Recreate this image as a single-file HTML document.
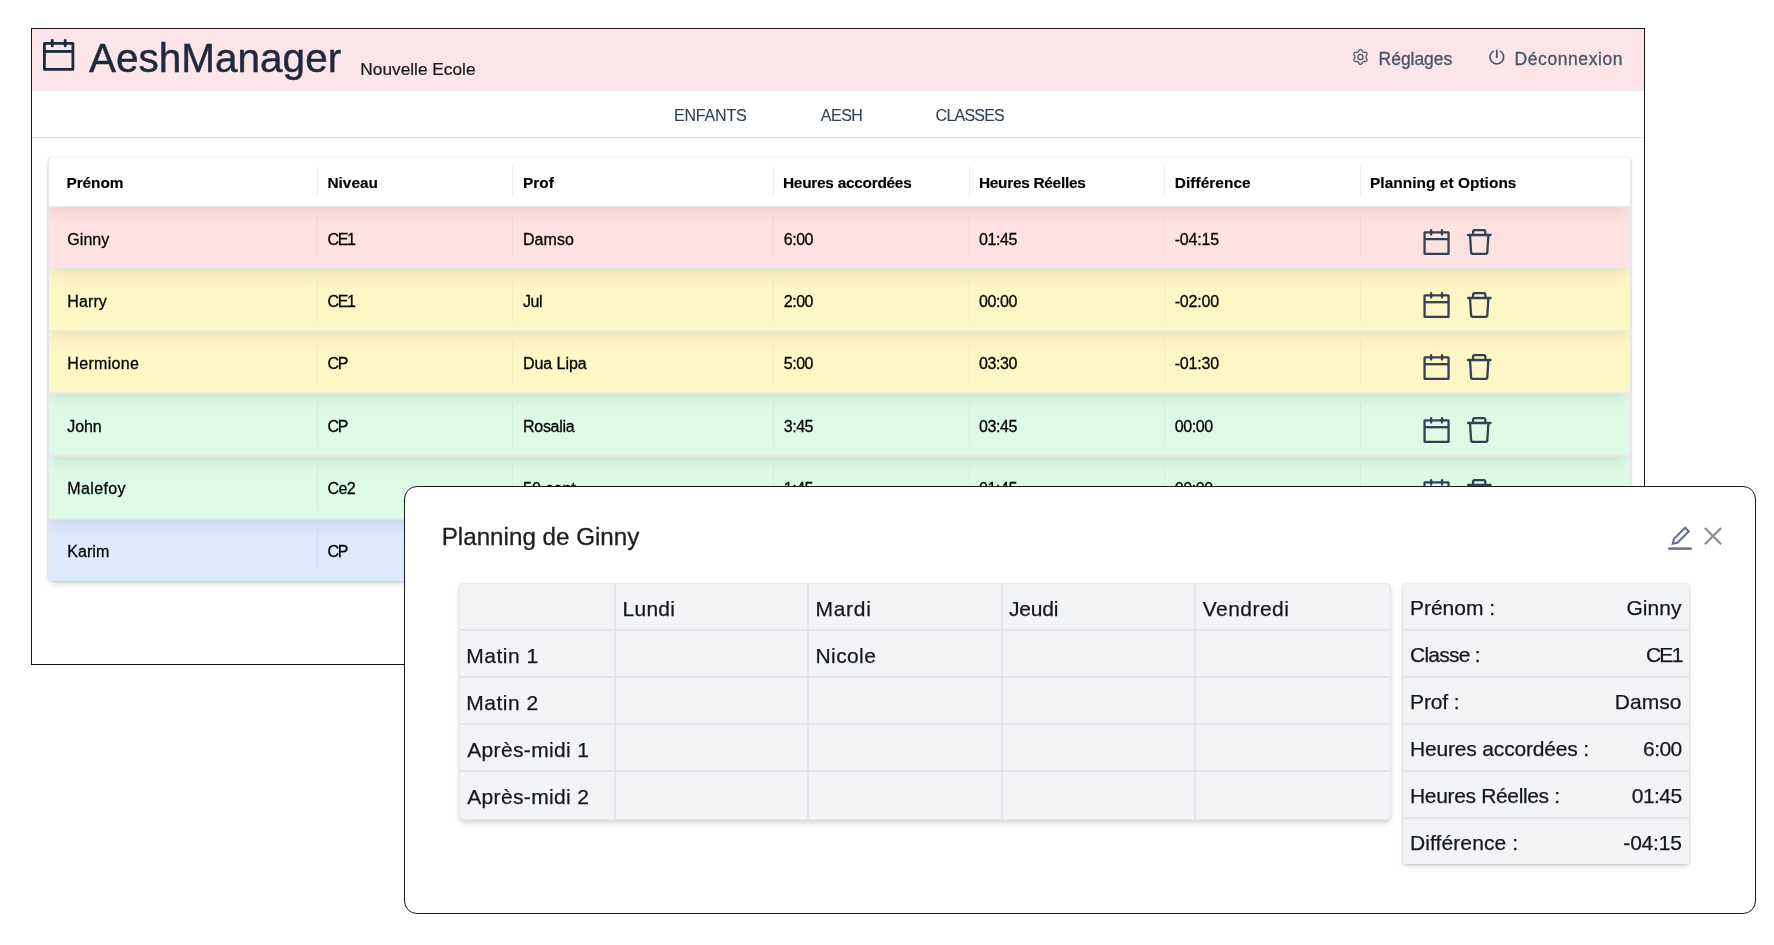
<!DOCTYPE html>
<html lang="fr">
<head>
<meta charset="utf-8">
<title>AeshManager</title>
<style>
*{box-sizing:border-box;margin:0;padding:0}
html,body{width:1774px;height:945px;overflow:hidden;background:#fff}
body{font-family:"Liberation Sans",sans-serif;color:#111;position:relative}
.t{position:absolute;white-space:nowrap;line-height:1}
.ic{position:absolute;overflow:visible}
#frame{will-change:transform;position:absolute;left:31px;top:28px;width:1614px;height:637px;border:1px solid #151515;background:#fff;overflow:hidden}
#hdr{position:absolute;left:0;top:0;width:1612px;height:62.4px;background:#fce5e8;border-bottom:1.4px solid #e8eaee}
#nav{position:absolute;left:0;top:62px;width:1612px;height:47px;border-bottom:1px solid #e3e4e8}
.hl{color:#475569;-webkit-text-stroke:0.3px #475569}
.nv{color:#334155;-webkit-text-stroke:.1px #334155}
#tbl{position:absolute;left:16px;top:128px;width:1583px;height:424px;border-radius:4px;background:#fff;box-shadow:0 4px 6px -1px rgba(0,0,0,.13),0 2px 4px -2px rgba(0,0,0,.11),0 0 0 0.4px #e6e8ec;overflow:hidden;border-left:1px solid #e4e6eb;border-right:1px solid #e4e6eb}
#tin{position:absolute;left:-1px;top:0;width:1582px;height:424px}
.row{position:absolute;left:0;width:1582px}
.row{overflow:hidden}
.row:before{content:"";position:absolute;left:0;right:0;top:-40px;height:40px;box-shadow:0 10px 15px -3px rgba(40,30,25,.07),0 4px 6px -4px rgba(40,30,25,.04)}
.rl{position:absolute;left:0;width:100%;height:1px;background:#e3e6ea;box-shadow:0 -1px 0 rgba(226,229,234,.55)}
#hline{position:absolute;left:0;top:49px;width:100%;height:1px;background:#eceef1;box-shadow:0 -1px 0 rgba(236,238,241,.5)}
.th{font-weight:bold;color:#000;-webkit-text-stroke:.15px #000}
.td{color:#000;-webkit-text-stroke:.28px #000}
.sep{position:absolute;width:1px;background:rgba(0,0,0,.065)}
.row .sep{background:rgba(0,0,0,.045)}
#modal{will-change:transform;position:absolute;left:404px;top:486px;width:1352px;height:428px;border:1px solid #1c1c1c;border-radius:13px;background:#fff}
.grid{position:absolute;background:#f3f4f6;box-shadow:0 4px 6px -1px rgba(0,0,0,.13),0 2px 4px -1px rgba(0,0,0,.09);border-radius:4px}
.gl{position:absolute;background:#e5e7eb}
.gt{color:#16181c;-webkit-text-stroke:.25px #16181c}
</style>
</head>
<body>
<div id="frame">
<div id="hdr">
<svg class="ic" style="left:10px;top:9px" width="34" height="34" viewBox="0 0 34 34" fill="none" stroke="#1e293b" stroke-width="2.8" stroke-linecap="round" stroke-linejoin="round"><rect x="2.4" y="5.4" width="28.5" height="26.05" rx="0.2"/><path d="M2.4 13.45H30.9" stroke-linecap="butt"/><path d="M10.25 2.5V7.9M23.2 2.5V7.9"/></svg>
<div class="t " style="left:57.00px;top:9.15px;font-size:40.5px;color:#1e293b;-webkit-text-stroke:0.45px #1e293b">AeshManager</div>
<div class="t " style="left:328.30px;top:31.75px;font-size:17.3px;color:#15171b;-webkit-text-stroke:.2px #15171b">Nouvelle Ecole</div>
<svg class="ic" style="left:0;top:0" width="1612" height="62" fill="none" stroke="#475569" stroke-width="1.25" stroke-linejoin="round"><path d="M1333.95 27.95L1333.99 27.56L1334.13 27.15L1334.35 26.70L1334.84 26.12L1335.06 25.54L1335.09 24.99L1334.97 24.48L1334.71 24.04L1334.33 23.68L1333.84 23.43L1333.23 23.33L1332.49 23.47L1331.98 23.43L1331.56 23.34L1331.20 23.19L1330.89 22.95L1330.60 22.63L1330.31 22.21L1330.06 21.50L1329.67 21.02L1329.21 20.72L1328.71 20.57L1328.19 20.57L1327.69 20.72L1327.23 21.02L1326.84 21.50L1326.59 22.21L1326.30 22.63L1326.01 22.95L1325.70 23.19L1325.34 23.34L1324.92 23.43L1324.41 23.47L1323.67 23.33L1323.06 23.43L1322.57 23.68L1322.19 24.04L1321.93 24.48L1321.81 24.99L1321.84 25.54L1322.06 26.12L1322.55 26.70L1322.77 27.15L1322.91 27.56L1322.95 27.95L1322.91 28.34L1322.77 28.75L1322.55 29.20L1322.06 29.78L1321.84 30.36L1321.81 30.91L1321.93 31.42L1322.19 31.86L1322.57 32.22L1323.06 32.47L1323.67 32.57L1324.41 32.43L1324.92 32.47L1325.34 32.56L1325.70 32.71L1326.01 32.95L1326.30 33.27L1326.59 33.69L1326.84 34.40L1327.23 34.88L1327.69 35.18L1328.19 35.33L1328.71 35.33L1329.21 35.18L1329.67 34.88L1330.06 34.40L1330.31 33.69L1330.60 33.27L1330.89 32.95L1331.20 32.71L1331.56 32.56L1331.98 32.47L1332.49 32.43L1333.23 32.57L1333.84 32.47L1334.33 32.22L1334.71 31.86L1334.97 31.42L1335.09 30.91L1335.06 30.36L1334.84 29.78L1334.35 29.20L1334.13 28.75L1333.99 28.34Z"/><circle cx="1328.45" cy="27.950000000000003" r="2.6"/></svg>
<div class="t hl" style="left:1346.60px;top:21.65px;font-size:17.5px;letter-spacing:-0.04px">Réglages</div>
<svg class="ic" style="left:0;top:0" width="1612" height="62" fill="none" stroke="#475569" stroke-width="1.6" stroke-linecap="butt"><path d="M1461.78 21.85A6.9 6.9 0 1 0 1467.82 21.85"/><path d="M1464.8 20.75V29.05" stroke-width="1.8"/></svg>
<div class="t hl" style="left:1482.60px;top:21.65px;font-size:17.5px;letter-spacing:0.57px">Déconnexion</div>
</div>
<div id="nav">
<div class="t nv" style="left:642.00px;top:16.90px;font-size:16px;letter-spacing:-0.19px">ENFANTS</div>
<div class="t nv" style="left:788.70px;top:16.90px;font-size:16px;letter-spacing:-0.45px">AESH</div>
<div class="t nv" style="left:903.60px;top:16.90px;font-size:16px;letter-spacing:-0.77px">CLASSES</div>
</div>
<div id="tbl"><div id="tin"><div id="hline"></div>
<div class="t th" style="left:18.50px;top:18.30px;font-size:15.4px;letter-spacing:-0.067px">Prénom</div>
<div class="t th" style="left:279.50px;top:18.30px;font-size:15.4px;letter-spacing:-0.019px">Niveau</div>
<div class="t th" style="left:475.00px;top:18.30px;font-size:15.4px;letter-spacing:-0.010px">Prof</div>
<div class="t th" style="left:735.00px;top:18.30px;font-size:15.4px;letter-spacing:-0.259px">Heures accordées</div>
<div class="t th" style="left:931.00px;top:18.30px;font-size:15.4px;letter-spacing:-0.279px">Heures Réelles</div>
<div class="t th" style="left:1126.70px;top:18.30px;font-size:15.4px;letter-spacing:0.075px">Différence</div>
<div class="t th" style="left:1322.00px;top:18.30px;font-size:15.4px;letter-spacing:0.059px">Planning et Options</div>
<div class="sep" style="left:269.3px;top:9px;height:31px"></div>
<div class="sep" style="left:464.3px;top:9px;height:31px"></div>
<div class="sep" style="left:725.2px;top:9px;height:31px"></div>
<div class="sep" style="left:920.8px;top:9px;height:31px"></div>
<div class="sep" style="left:1116.3px;top:9px;height:31px"></div>
<div class="sep" style="left:1311.6px;top:9px;height:31px"></div>
<div class="row" style="top:50px;height:61px;background:#fee2e2">
<div class="t td" style="left:19.30px;top:24.85px;font-size:16px;letter-spacing:0.042px;">Ginny</div>
<div class="t td" style="left:279.50px;top:24.85px;font-size:16px;letter-spacing:-1.308px;">CE1</div>
<div class="t td" style="left:475.00px;top:24.85px;font-size:16px;letter-spacing:0.039px;">Damso</div>
<div class="t td" style="left:735.70px;top:24.85px;font-size:16px;letter-spacing:-0.449px;">6:00</div>
<div class="t td" style="left:931.00px;top:24.85px;font-size:16px;letter-spacing:-0.414px;">01:45</div>
<div class="t td" style="left:1126.70px;top:24.85px;font-size:16px;letter-spacing:-0.167px;">-04:15</div>
<div class="sep" style="left:269.3px;top:9px;height:43px"></div>
<div class="sep" style="left:464.3px;top:9px;height:43px"></div>
<div class="sep" style="left:725.2px;top:9px;height:43px"></div>
<div class="sep" style="left:920.8px;top:9px;height:43px"></div>
<div class="sep" style="left:1116.3px;top:9px;height:43px"></div>
<div class="sep" style="left:1311.6px;top:9px;height:43px"></div>
<svg class="ic" style="left:1374px;top:21.05px" width="30" height="30" viewBox="0 0 30 30" fill="none" stroke="#334155" stroke-width="2.3" stroke-linecap="round" stroke-linejoin="round"><rect x="2.55" y="4.45" width="24" height="21.4" rx="0.35"/><path d="M2.55 11.2H26.55" stroke-linecap="butt"/><path d="M9.1 2.1V6.6M20 2.1V6.6"/></svg>
<svg class="ic" style="left:1417px;top:21.05px" width="30" height="30" viewBox="0 0 30 30" fill="none" stroke="#334155" stroke-width="2.3" stroke-linecap="round" stroke-linejoin="round"><path d="M3.05 7H25.55M8.1 7V3.6Q8.1 2.15 9.55 2.15H18.85Q20.3 2.15 20.3 3.6V7M5 7L6.1 24.3Q6.2 25.85 7.7 25.85H20.7Q22.2 25.85 22.3 24.3L23.4 7"/></svg>
</div>
<div class="rl" style="top:111px"></div>
<div class="row" style="top:112px;height:62px;background:#fef6c5">
<div class="t td" style="left:19.30px;top:24.85px;font-size:16px;letter-spacing:0.101px;">Harry</div>
<div class="t td" style="left:279.50px;top:24.85px;font-size:16px;letter-spacing:-1.308px;">CE1</div>
<div class="t td" style="left:475.00px;top:24.85px;font-size:16px;letter-spacing:-0.406px;">Jul</div>
<div class="t td" style="left:735.70px;top:24.85px;font-size:16px;letter-spacing:-0.449px;">2:00</div>
<div class="t td" style="left:931.00px;top:24.85px;font-size:16px;letter-spacing:-0.414px;">00:00</div>
<div class="t td" style="left:1126.70px;top:24.85px;font-size:16px;letter-spacing:-0.167px;">-02:00</div>
<div class="sep" style="left:269.3px;top:9px;height:43px"></div>
<div class="sep" style="left:464.3px;top:9px;height:43px"></div>
<div class="sep" style="left:725.2px;top:9px;height:43px"></div>
<div class="sep" style="left:920.8px;top:9px;height:43px"></div>
<div class="sep" style="left:1116.3px;top:9px;height:43px"></div>
<div class="sep" style="left:1311.6px;top:9px;height:43px"></div>
<svg class="ic" style="left:1374px;top:21.55px" width="30" height="30" viewBox="0 0 30 30" fill="none" stroke="#334155" stroke-width="2.3" stroke-linecap="round" stroke-linejoin="round"><rect x="2.55" y="4.45" width="24" height="21.4" rx="0.35"/><path d="M2.55 11.2H26.55" stroke-linecap="butt"/><path d="M9.1 2.1V6.6M20 2.1V6.6"/></svg>
<svg class="ic" style="left:1417px;top:21.55px" width="30" height="30" viewBox="0 0 30 30" fill="none" stroke="#334155" stroke-width="2.3" stroke-linecap="round" stroke-linejoin="round"><path d="M3.05 7H25.55M8.1 7V3.6Q8.1 2.15 9.55 2.15H18.85Q20.3 2.15 20.3 3.6V7M5 7L6.1 24.3Q6.2 25.85 7.7 25.85H20.7Q22.2 25.85 22.3 24.3L23.4 7"/></svg>
</div>
<div class="rl" style="top:174px"></div>
<div class="row" style="top:175px;height:61px;background:#fef6c5">
<div class="t td" style="left:19.30px;top:23.85px;font-size:16px;letter-spacing:0.327px;">Hermione</div>
<div class="t td" style="left:279.50px;top:23.85px;font-size:16px;letter-spacing:-1.380px;">CP</div>
<div class="t td" style="left:475.00px;top:23.85px;font-size:16px;letter-spacing:-0.058px;">Dua Lipa</div>
<div class="t td" style="left:735.70px;top:23.85px;font-size:16px;letter-spacing:-0.449px;">5:00</div>
<div class="t td" style="left:931.00px;top:23.85px;font-size:16px;letter-spacing:-0.414px;">03:30</div>
<div class="t td" style="left:1126.70px;top:23.85px;font-size:16px;letter-spacing:-0.167px;">-01:30</div>
<div class="sep" style="left:269.3px;top:9px;height:43px"></div>
<div class="sep" style="left:464.3px;top:9px;height:43px"></div>
<div class="sep" style="left:725.2px;top:9px;height:43px"></div>
<div class="sep" style="left:920.8px;top:9px;height:43px"></div>
<div class="sep" style="left:1116.3px;top:9px;height:43px"></div>
<div class="sep" style="left:1311.6px;top:9px;height:43px"></div>
<svg class="ic" style="left:1374px;top:21.05px" width="30" height="30" viewBox="0 0 30 30" fill="none" stroke="#334155" stroke-width="2.3" stroke-linecap="round" stroke-linejoin="round"><rect x="2.55" y="4.45" width="24" height="21.4" rx="0.35"/><path d="M2.55 11.2H26.55" stroke-linecap="butt"/><path d="M9.1 2.1V6.6M20 2.1V6.6"/></svg>
<svg class="ic" style="left:1417px;top:21.05px" width="30" height="30" viewBox="0 0 30 30" fill="none" stroke="#334155" stroke-width="2.3" stroke-linecap="round" stroke-linejoin="round"><path d="M3.05 7H25.55M8.1 7V3.6Q8.1 2.15 9.55 2.15H18.85Q20.3 2.15 20.3 3.6V7M5 7L6.1 24.3Q6.2 25.85 7.7 25.85H20.7Q22.2 25.85 22.3 24.3L23.4 7"/></svg>
</div>
<div class="rl" style="top:236px"></div>
<div class="row" style="top:237px;height:62px;background:#dcfae6">
<div class="t td" style="left:19.30px;top:24.85px;font-size:16px;letter-spacing:-0.108px;">John</div>
<div class="t td" style="left:279.50px;top:24.85px;font-size:16px;letter-spacing:-1.380px;">CP</div>
<div class="t td" style="left:475.00px;top:24.85px;font-size:16px;letter-spacing:-0.287px;">Rosalia</div>
<div class="t td" style="left:735.70px;top:24.85px;font-size:16px;letter-spacing:-0.449px;">3:45</div>
<div class="t td" style="left:931.00px;top:24.85px;font-size:16px;letter-spacing:-0.414px;">03:45</div>
<div class="t td" style="left:1126.70px;top:24.85px;font-size:16px;letter-spacing:-0.414px;">00:00</div>
<div class="sep" style="left:269.3px;top:9px;height:43px"></div>
<div class="sep" style="left:464.3px;top:9px;height:43px"></div>
<div class="sep" style="left:725.2px;top:9px;height:43px"></div>
<div class="sep" style="left:920.8px;top:9px;height:43px"></div>
<div class="sep" style="left:1116.3px;top:9px;height:43px"></div>
<div class="sep" style="left:1311.6px;top:9px;height:43px"></div>
<svg class="ic" style="left:1374px;top:21.55px" width="30" height="30" viewBox="0 0 30 30" fill="none" stroke="#334155" stroke-width="2.3" stroke-linecap="round" stroke-linejoin="round"><rect x="2.55" y="4.45" width="24" height="21.4" rx="0.35"/><path d="M2.55 11.2H26.55" stroke-linecap="butt"/><path d="M9.1 2.1V6.6M20 2.1V6.6"/></svg>
<svg class="ic" style="left:1417px;top:21.55px" width="30" height="30" viewBox="0 0 30 30" fill="none" stroke="#334155" stroke-width="2.3" stroke-linecap="round" stroke-linejoin="round"><path d="M3.05 7H25.55M8.1 7V3.6Q8.1 2.15 9.55 2.15H18.85Q20.3 2.15 20.3 3.6V7M5 7L6.1 24.3Q6.2 25.85 7.7 25.85H20.7Q22.2 25.85 22.3 24.3L23.4 7"/></svg>
</div>
<div class="rl" style="top:299px"></div>
<div class="row" style="top:300px;height:62px;background:#dcfae6">
<div class="t td" style="left:19.30px;top:23.85px;font-size:16px;letter-spacing:0.382px;">Malefoy</div>
<div class="t td" style="left:279.50px;top:23.85px;font-size:16px;letter-spacing:-0.624px;">Ce2</div>
<div class="t td" style="left:475.00px;top:23.85px;font-size:16px;letter-spacing:0.051px;">50 cent</div>
<div class="t td" style="left:735.70px;top:23.85px;font-size:16px;letter-spacing:-0.449px;">1:45</div>
<div class="t td" style="left:931.00px;top:23.85px;font-size:16px;letter-spacing:-0.414px;">01:45</div>
<div class="t td" style="left:1126.70px;top:23.85px;font-size:16px;letter-spacing:-0.414px;">00:00</div>
<div class="sep" style="left:269.3px;top:9px;height:43px"></div>
<div class="sep" style="left:464.3px;top:9px;height:43px"></div>
<div class="sep" style="left:725.2px;top:9px;height:43px"></div>
<div class="sep" style="left:920.8px;top:9px;height:43px"></div>
<div class="sep" style="left:1116.3px;top:9px;height:43px"></div>
<div class="sep" style="left:1311.6px;top:9px;height:43px"></div>
<svg class="ic" style="left:1374px;top:21.05px" width="30" height="30" viewBox="0 0 30 30" fill="none" stroke="#334155" stroke-width="2.3" stroke-linecap="round" stroke-linejoin="round"><rect x="2.55" y="4.45" width="24" height="21.4" rx="0.35"/><path d="M2.55 11.2H26.55" stroke-linecap="butt"/><path d="M9.1 2.1V6.6M20 2.1V6.6"/></svg>
<svg class="ic" style="left:1417px;top:21.05px" width="30" height="30" viewBox="0 0 30 30" fill="none" stroke="#334155" stroke-width="2.3" stroke-linecap="round" stroke-linejoin="round"><path d="M3.05 7H25.55M8.1 7V3.6Q8.1 2.15 9.55 2.15H18.85Q20.3 2.15 20.3 3.6V7M5 7L6.1 24.3Q6.2 25.85 7.7 25.85H20.7Q22.2 25.85 22.3 24.3L23.4 7"/></svg>
</div>
<div class="rl" style="top:362px"></div>
<div class="row" style="top:363px;height:61px;background:#dbeafd">
<div class="t td" style="left:19.30px;top:23.85px;font-size:16px;letter-spacing:0.032px;">Karim</div>
<div class="t td" style="left:279.50px;top:23.85px;font-size:16px;letter-spacing:-1.380px;">CP</div>
<div class="sep" style="left:269.3px;top:9px;height:43px"></div>
<div class="sep" style="left:464.3px;top:9px;height:43px"></div>
<div class="sep" style="left:725.2px;top:9px;height:43px"></div>
<div class="sep" style="left:920.8px;top:9px;height:43px"></div>
<div class="sep" style="left:1116.3px;top:9px;height:43px"></div>
<div class="sep" style="left:1311.6px;top:9px;height:43px"></div>
<svg class="ic" style="left:1374px;top:20.55px" width="30" height="30" viewBox="0 0 30 30" fill="none" stroke="#334155" stroke-width="2.3" stroke-linecap="round" stroke-linejoin="round"><rect x="2.55" y="4.45" width="24" height="21.4" rx="0.35"/><path d="M2.55 11.2H26.55" stroke-linecap="butt"/><path d="M9.1 2.1V6.6M20 2.1V6.6"/></svg>
<svg class="ic" style="left:1417px;top:20.55px" width="30" height="30" viewBox="0 0 30 30" fill="none" stroke="#334155" stroke-width="2.3" stroke-linecap="round" stroke-linejoin="round"><path d="M3.05 7H25.55M8.1 7V3.6Q8.1 2.15 9.55 2.15H18.85Q20.3 2.15 20.3 3.6V7M5 7L6.1 24.3Q6.2 25.85 7.7 25.85H20.7Q22.2 25.85 22.3 24.3L23.4 7"/></svg>
</div>
</div></div>
</div>
<div id="modal">
<div class="t " style="left:36.70px;top:37.80px;font-size:24.2px;color:#1c1e22;-webkit-text-stroke:.3px #1c1e22">Planning de Ginny</div>
<svg class="ic" style="left:1260px;top:36px" width="30" height="30" viewBox="0 0 30 30" fill="none" stroke="#626d82" stroke-width="2.0" stroke-linejoin="miter"><path d="M3.2 25.6H26.8" stroke-width="2.4"/><path d="M7.7 20.8L9 15.8L20.2 4.7L23.8 8.5L12.3 19.8Z"/></svg>
<svg class="ic" style="left:1296px;top:37px" width="24" height="24" viewBox="0 0 24 24" fill="none" stroke="#8c8c8c" stroke-width="2.1"><path d="M3.9 3.9L20.1 20.3M20.1 3.9L3.9 20.3"/></svg>
<div class="grid" style="left:54px;top:96px;width:932px;height:237px;border:1.5px solid #e5e7eb">
<div style="position:absolute;left:-1.5px;top:-1.5px">
<div class="gl" style="left:155.3px;top:0;width:2px;height:237px"></div>
<div class="gl" style="left:348.8px;top:0;width:2px;height:237px"></div>
<div class="gl" style="left:542.2px;top:0;width:2px;height:237px"></div>
<div class="gl" style="left:735.6px;top:0;width:2px;height:237px"></div>
<div class="gl" style="left:0;top:46.9px;width:932px;height:2px"></div>
<div class="gl" style="left:0;top:93.8px;width:932px;height:2px"></div>
<div class="gl" style="left:0;top:140.7px;width:932px;height:2px"></div>
<div class="gl" style="left:0;top:187.6px;width:932px;height:2px"></div>
<div class="t gt" style="left:164.00px;top:15.40px;font-size:21px;letter-spacing:0.269px;">Lundi</div>
<div class="t gt" style="left:357.00px;top:15.40px;font-size:21px;letter-spacing:0.707px;">Mardi</div>
<div class="t gt" style="left:550.40px;top:15.40px;font-size:21px;letter-spacing:-0.171px;">Jeudi</div>
<div class="t gt" style="left:744.20px;top:15.40px;font-size:21px;letter-spacing:0.476px;">Vendredi</div>
<div class="t gt" style="left:7.70px;top:62.30px;font-size:21px;letter-spacing:0.508px;">Matin 1</div>
<div class="t gt" style="left:7.70px;top:109.20px;font-size:21px;letter-spacing:0.508px;">Matin 2</div>
<div class="t gt" style="left:8.70px;top:156.10px;font-size:21px;letter-spacing:0.359px;">Après-midi 1</div>
<div class="t gt" style="left:8.70px;top:203.00px;font-size:21px;letter-spacing:0.359px;">Après-midi 2</div>
<div class="t gt" style="left:357.00px;top:62.30px;font-size:21px;letter-spacing:0.399px;">Nicole</div>
</div></div>
<div class="grid" style="left:998.0px;top:96.5px;width:285.8px;height:280.9px;border-radius:0;box-shadow:0 3px 6px -1px rgba(0,0,0,.14),0 1px 3px rgba(0,0,0,.08),0 0 0 0.5px #e9ebee">
<div class="gl" style="left:0;top:45.9px;width:285.8px;height:2px"></div>
<div class="gl" style="left:0;top:92.8px;width:285.8px;height:2px"></div>
<div class="gl" style="left:0;top:139.7px;width:285.8px;height:2px"></div>
<div class="gl" style="left:0;top:186.6px;width:285.8px;height:2px"></div>
<div class="gl" style="left:0;top:233.5px;width:285.8px;height:2px"></div>
<div class="t gt" style="left:7.00px;top:13.90px;font-size:21px;letter-spacing:-0.031px;">Prénom :</div>
<div class="t gt" style="left:223.47px;top:13.90px;font-size:21px;letter-spacing:0.055px;">Ginny</div>
<div class="t gt" style="left:7.00px;top:60.80px;font-size:21px;letter-spacing:-0.768px;">Classe :</div>
<div class="t gt" style="left:242.90px;top:60.80px;font-size:21px;letter-spacing:-1.717px;">CE1</div>
<div class="t gt" style="left:7.00px;top:107.70px;font-size:21px;letter-spacing:-0.118px;">Prof :</div>
<div class="t gt" style="left:211.83px;top:107.70px;font-size:21px;letter-spacing:0.051px;">Damso</div>
<div class="t gt" style="left:7.00px;top:154.60px;font-size:21px;letter-spacing:-0.170px;">Heures accordées :</div>
<div class="t gt" style="left:240.09px;top:154.60px;font-size:21px;letter-spacing:-0.590px;">6:00</div>
<div class="t gt" style="left:7.00px;top:201.50px;font-size:21px;letter-spacing:-0.342px;">Heures Réelles :</div>
<div class="t gt" style="left:228.77px;top:201.50px;font-size:21px;letter-spacing:-0.544px;">01:45</div>
<div class="t gt" style="left:7.00px;top:248.40px;font-size:21px;letter-spacing:0.095px;">Différence :</div>
<div class="t gt" style="left:220.37px;top:248.40px;font-size:21px;letter-spacing:-0.219px;">-04:15</div>
</div>
</div>
</body>
</html>
